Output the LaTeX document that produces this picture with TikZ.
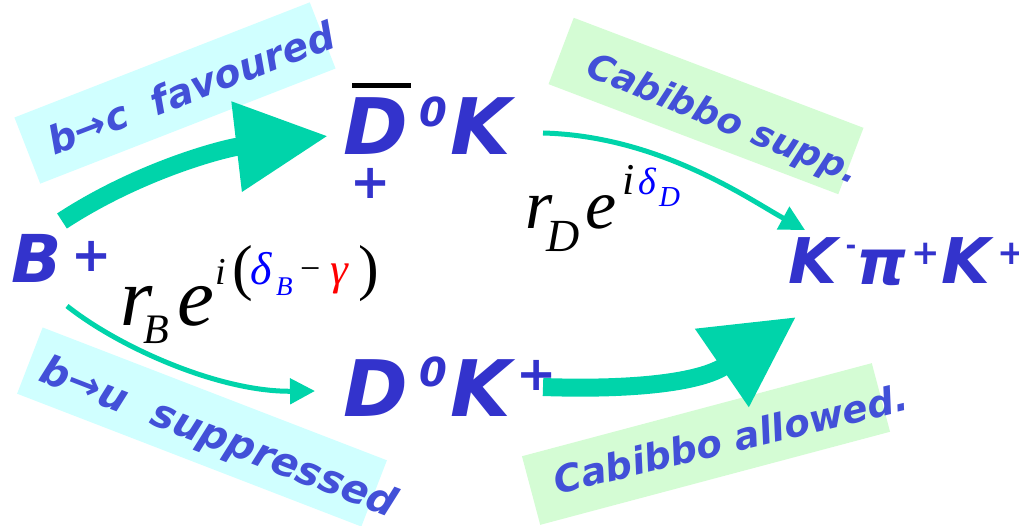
\documentclass[tikz,border=0pt]{standalone}
\usepackage{fontspec}
\usetikzlibrary{arrows.meta}
\newfontfamily\lab{DejaVu Sans}
\newfontfamily\tms{Liberation Serif}
\newcommand\myfs[1]{\fontsize{#1}{#1}\selectfont}
\definecolor{mainblue}{RGB}{51,51,204}
\definecolor{boxblue}{RGB}{66,80,216}
\definecolor{cyanbox}{RGB}{208,255,255}
\definecolor{greenbox}{RGB}{212,252,212}
\definecolor{arrowgreen}{RGB}{0,212,170}
\definecolor{mblue}{RGB}{0,0,255}
\definecolor{mred}{RGB}{255,0,0}
\begin{document}
\begin{tikzpicture}[x=1pt,y=-1pt,
  band/.style={inner sep=0pt,outer sep=0pt,minimum height=71pt},
  cyanband/.style={band,fill=cyanbox},
  greenband/.style={band,fill=greenbox},
  bandtext/.style={inner sep=0pt,anchor=base,text=boxblue,font=\lab\bfseries\itshape\myfs{#1}},
  particle/.style={inner sep=0pt,anchor=base west,text=mainblue,font=\lab\bfseries\itshape\myfs{#1}},
  charge/.style={inner sep=0pt,anchor=center,text=mainblue,font=\lab\bfseries\myfs{#1}},
  mathtxt/.style={inner sep=0pt,anchor=base west,font=\tms\itshape\myfs{#1}},
  mathup/.style={inner sep=0pt,anchor=base west,font=\tms\myfs{#1}},
  thickarrow/.style={draw=arrowgreen,line width=18pt},
  thinarrow/.style={draw=arrowgreen,line width=5pt},
]
\useasboundingbox (0,0) rectangle (1019,526);
% bands
\node[cyanband,minimum width=317pt,rotate=21.3] (band1) at (175,93) {};
\node[greenband,minimum width=310pt,rotate=-20.8] (band2) at (706,106) {};
\node[cyanband,minimum width=369pt,rotate=-21.1] (band3) at (202,427) {};
\node[greenband,minimum width=362pt,rotate=14.9] (band4) at (706,444) {};
% band texts
\node[bandtext=38.5,rotate=21] (t1) at (196,101) {b→c\ \ favoured};
\node[bandtext=36,rotate=-22] (t2) at (719,130) {Cabibbo supp.};
\node[bandtext=40,rotate=-21.2] (t3) at (214,449) {b→u\ \ suppressed};
\node[bandtext=37.5,rotate=13.5] (t4) at (734,452) {Cabibbo allowed.};
% B+
\node[particle=66] (B) at (11,283) {B};
\node[charge=48] (Bp) at (92,256) {+};
% Dbar0 K
\node[particle=78] (Db) at (343,155) {D};
\node[particle=40] (Db0) at (419,127) {0};
\node[particle=78] (DbK) at (450,155) {K};
\node[charge=48] (Dbp) at (371,183) {+};
\draw[line width=5pt] (352,85.5) -- (411,85.5);
% D0 K+
\node[particle=78] (D) at (343,416) {D};
\node[particle=40] (D0) at (419,386) {0};
\node[particle=78] (DK) at (450,416) {K};
\node[charge=48] (Dp) at (537,375) {+};
% K- pi+ K+
\node[particle=63] (F1) at (788,284) {K};
\node[charge=26] (Fm) at (851,250) {-};
\node[particle=63] (Fpi) at (856,285) {π};
\node[charge=34] (Fp1) at (926,253.5) {+};
\node[particle=63] (F2) at (941,284) {K};
\node[charge=34] (Fp2) at (1012,253.5) {+};
% formula r_B e^{i(delta_B - gamma)}
\node[mathtxt=83] (rB) at (120,325) {r};
\node[mathtxt=42] (rBs) at (143,343) {B};
\node[mathtxt=83] (eB) at (177,325) {e};
\node[mathtxt=38] (iB) at (215,285) {i};
\node[mathup=62] (lp) at (232,289) {(};
\node[mathtxt=46,text=mblue] (dB) at (250,285) {δ};
\node[mathtxt=27,text=mblue] (dBs) at (276,296) {B};
\node[mathup=36] (mn) at (300,281) {−};
\node[mathtxt=45,text=mred] (gm) at (330,285) {γ};
\node[mathup=62] (rp) at (358,289) {)};
% formula r_D e^{i delta_D}
\node[mathtxt=70] (rD) at (525,229) {r};
\node[mathtxt=46] (rDs) at (546,252) {D};
\node[mathtxt=70] (eD) at (585,229) {e};
\node[mathtxt=44] (iD) at (622,195) {i};
\node[mathtxt=38,text=mblue] (dD) at (638,195) {δ};
\node[mathtxt=29,text=mblue] (dDs) at (659,207) {D};
% anchor points of connectors
\coordinate (s1) at (62,221);
\coordinate (e1) at (328,136);
\coordinate (s2) at (67,306);
\coordinate (e2) at (315,391);
\coordinate (s3) at (543,133);
\coordinate (e3) at (805,230);
\coordinate (s4) at (543,387);
\coordinate (e4) at (796,317);
% arrows
\draw[thickarrow,-{Triangle[length=92pt,width=86pt]}] (s1) .. controls (140,170) and (225,148) .. (e1);
\draw[thinarrow,-{Triangle[length=25pt,width=25pt]}] (s2) .. controls (120,348) and (220,392) .. (e2);
\draw[thinarrow,-{Triangle[length=25pt,width=25pt]}] (s3) .. controls (660,136) and (750,200) .. (e3);
\draw[thickarrow,-{Triangle[length=90pt,width=90pt]}] (s4) .. controls (630,390) and (700,383) .. (e4);
\end{tikzpicture}
\end{document}
